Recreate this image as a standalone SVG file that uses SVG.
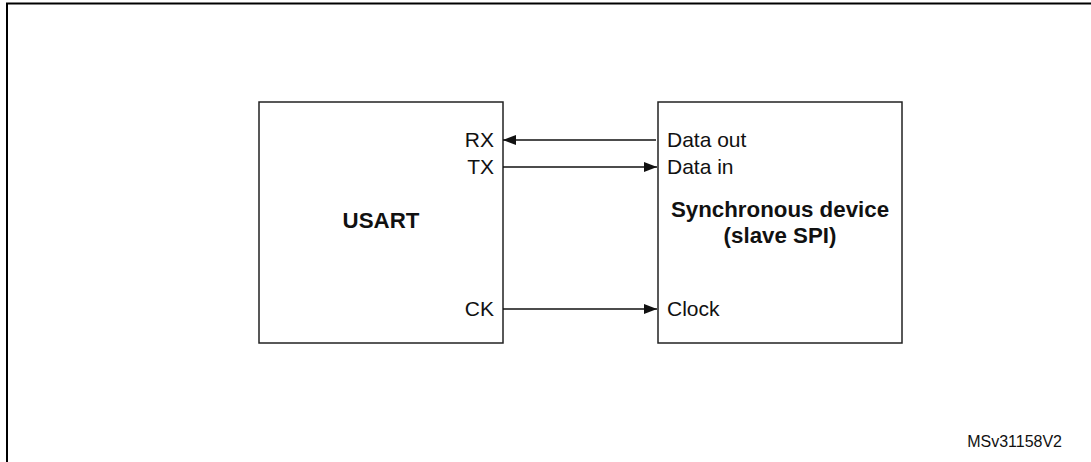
<svg xmlns="http://www.w3.org/2000/svg" width="1091" height="462" viewBox="0 0 1091 462">
<style>
  .box { fill: #ffffff; stroke: #222222; stroke-width: 1.5; }
  .lbl { font-family: "Liberation Sans", Arial, sans-serif; font-size: 21px; fill: #111111; }
  .bold { font-weight: bold; font-size: 22.3px; }
  .ref { font-size: 16px; }
  .conn { stroke: #111111; stroke-width: 1.3; fill: none; }
  .frame { fill: none; stroke: #000000; stroke-width: 2; }
</style>
<defs>
  <marker id="arrow" viewBox="0 0 13 10" refX="13" refY="5" markerWidth="13" markerHeight="10" markerUnits="userSpaceOnUse" orient="auto">
    <path d="M0,0 L13,5 L0,10 Z" fill="#111111"/>
  </marker>
</defs>
<rect width="1091" height="462" fill="#ffffff"/>
<path class="frame" d="M7,462 V3.5 H1091"/>
<g id="usart">
  <rect class="box" x="259" y="102" width="244" height="241"/>
  <text class="lbl bold" x="381" y="228" text-anchor="middle">USART</text>
  <text class="lbl" x="494" y="147" text-anchor="end">RX</text>
  <text class="lbl" x="494" y="174" text-anchor="end">TX</text>
  <text class="lbl" x="494" y="316" text-anchor="end">CK</text>
</g>
<g id="sync-device">
  <rect class="box" x="658" y="102" width="244" height="241"/>
  <text class="lbl bold" x="780" y="217" text-anchor="middle">Synchronous device</text>
  <text class="lbl bold" x="780" y="243" text-anchor="middle">(slave SPI)</text>
  <text class="lbl" x="667" y="147">Data out</text>
  <text class="lbl" x="667" y="174">Data in</text>
  <text class="lbl" x="667" y="316">Clock</text>
</g>
<g id="connectors">
  <line class="conn" x1="656" y1="140" x2="503" y2="140" marker-end="url(#arrow)"/>
  <line class="conn" x1="503" y1="167" x2="657" y2="167" marker-end="url(#arrow)"/>
  <line class="conn" x1="503" y1="309" x2="657" y2="309" marker-end="url(#arrow)"/>
</g>
<text id="ref" class="lbl ref" x="1062" y="447" text-anchor="end">MSv31158V2</text>
</svg>
